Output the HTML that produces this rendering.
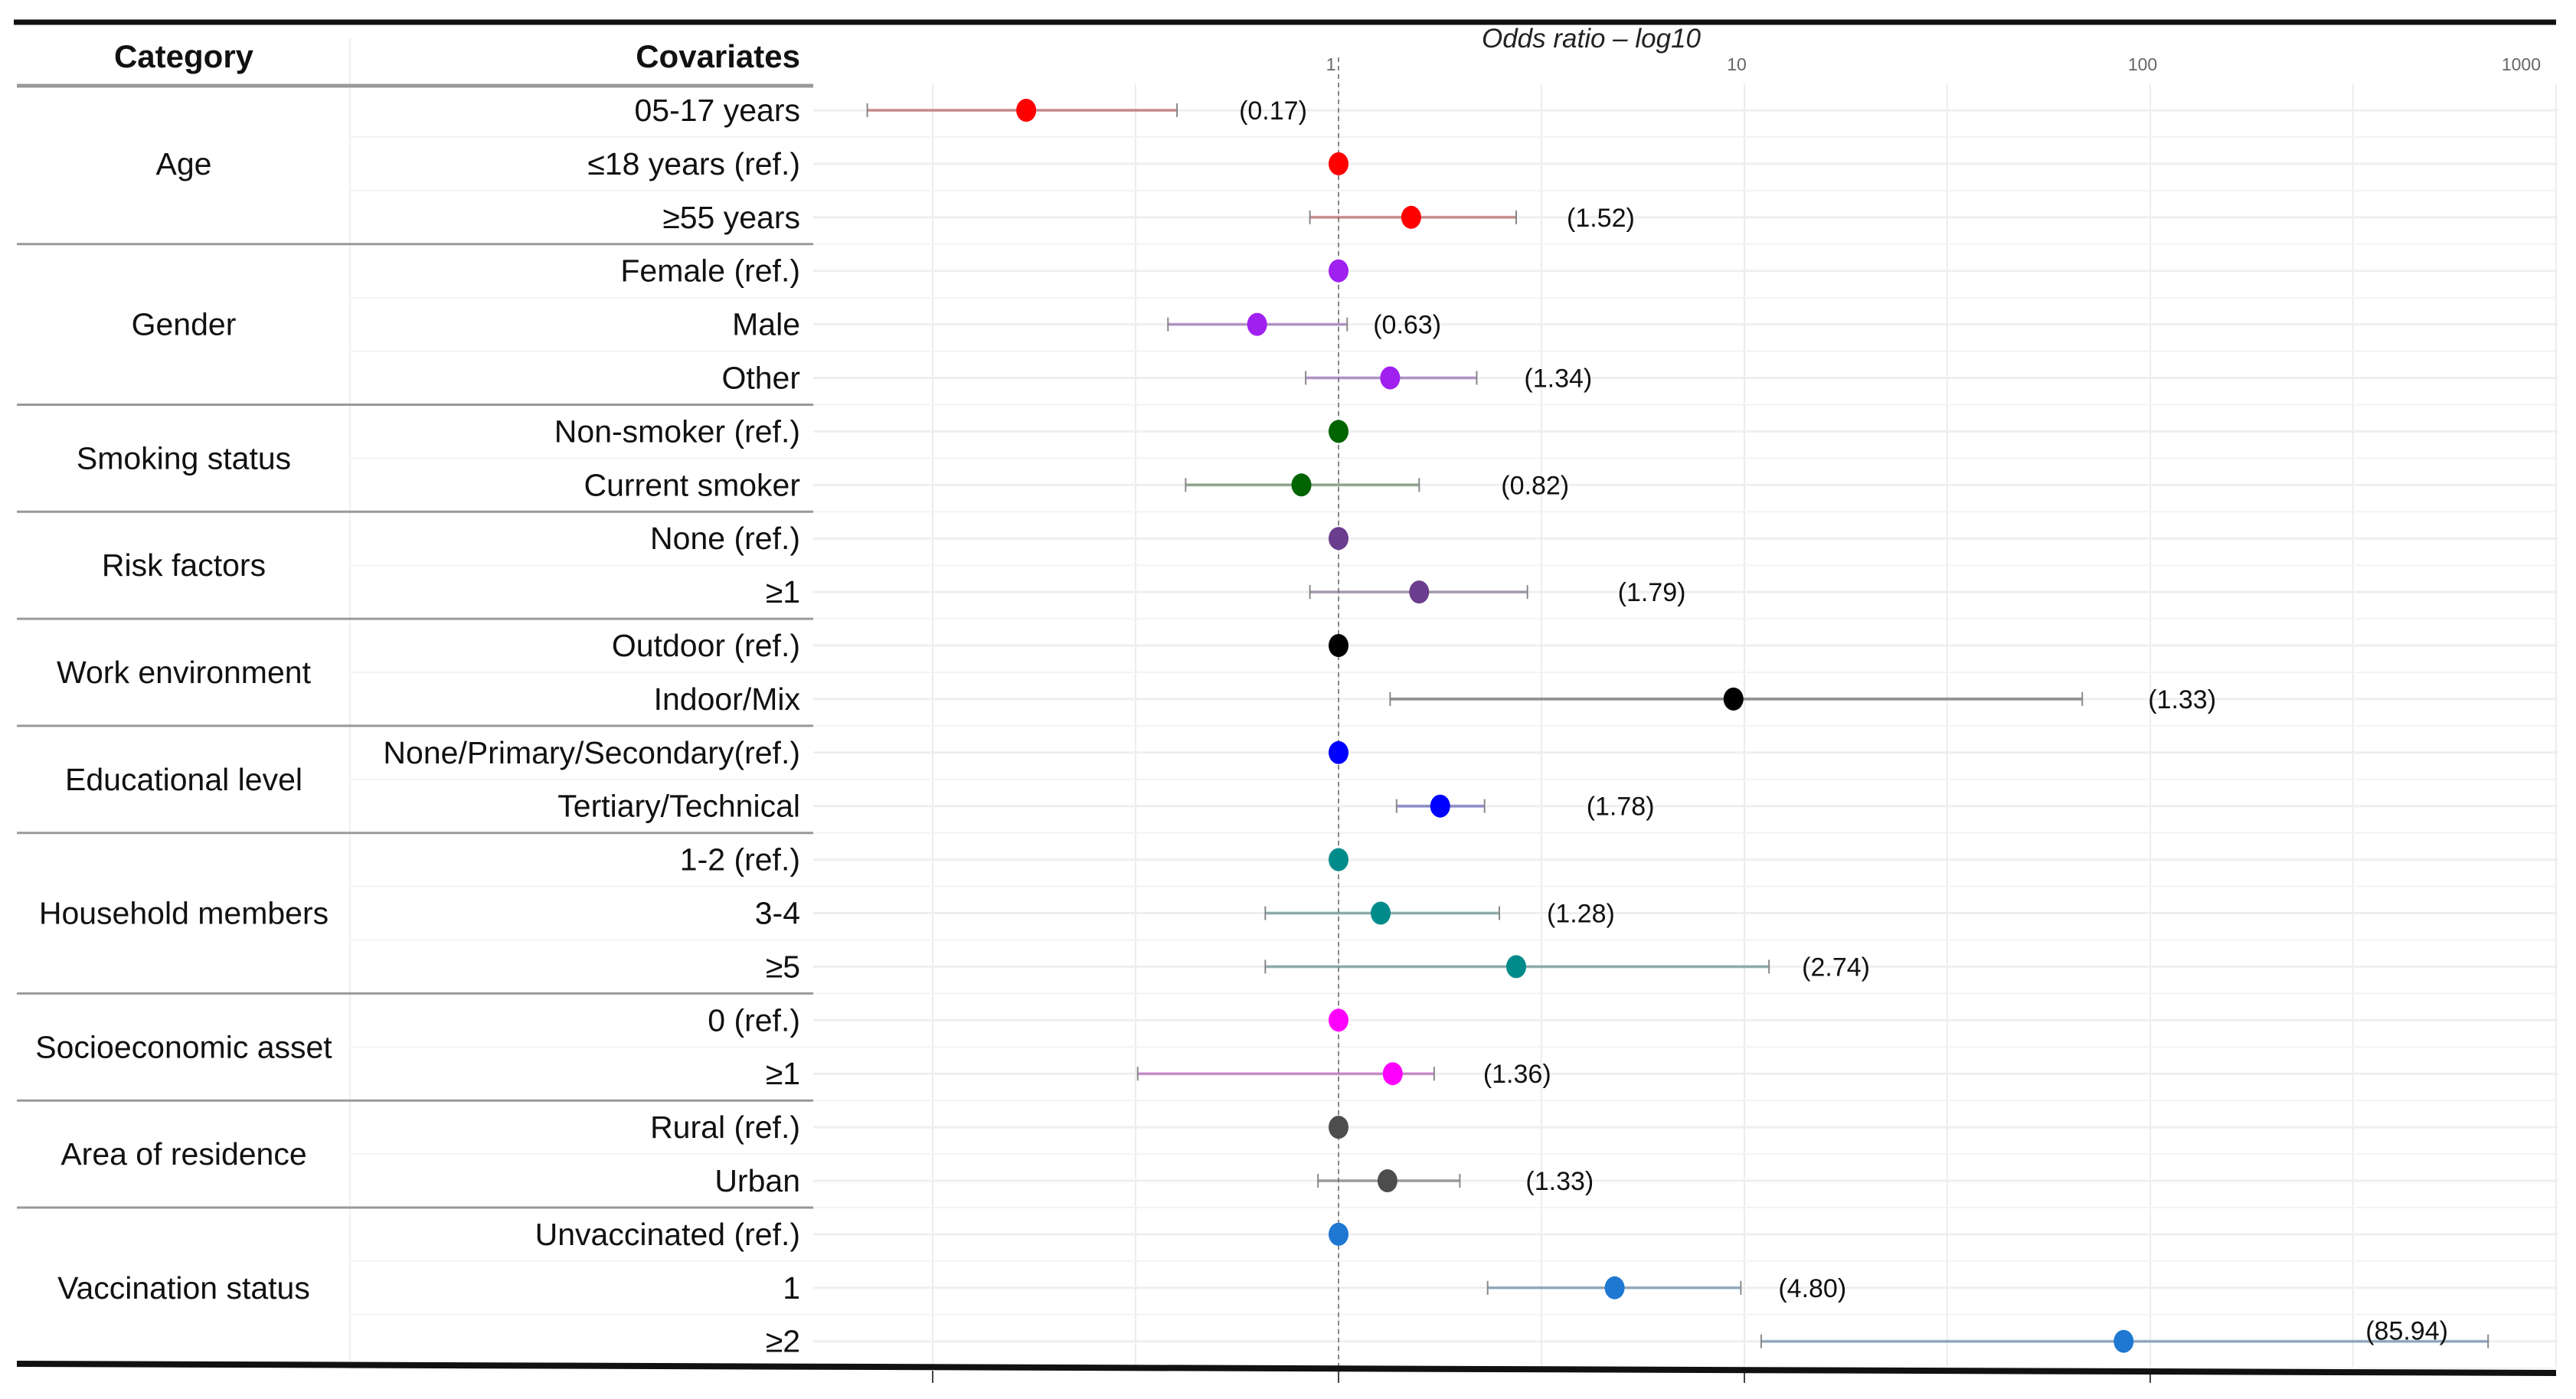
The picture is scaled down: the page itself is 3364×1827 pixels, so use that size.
<!DOCTYPE html>
<html><head><meta charset="utf-8"><style>
html,body{margin:0;padding:0;background:#fff;}
svg{display:block;font-family:"Liberation Sans",sans-serif;}
</style></head><body>
<svg id="chart" width="3364" height="1827" viewBox="0 0 3364 1827" xmlns="http://www.w3.org/2000/svg">
<rect x="0" y="0" width="3364" height="1827" fill="#fff"/>
<g id="grid"></g>
<g id="table"></g>
<g id="marks"></g>
<line x1="18" y1="29" x2="3338" y2="29" stroke="#111" stroke-width="7"/>
<line x1="22" y1="1781" x2="3338" y2="1793" stroke="#111" stroke-width="8"/>
<text x="2078" y="62" font-size="35" font-style="italic" text-anchor="middle" fill="#222">Odds ratio – log10</text>
<text x="240" y="88" font-size="42" font-weight="bold" text-anchor="middle" fill="#111">Category</text>
<text x="1045" y="88" font-size="42" font-weight="bold" text-anchor="end" fill="#111">Covariates</text>
</svg>
<script>
const categories = ["Age","Gender","Smoking status","Risk factors","Work environment","Educational level","Household members","Socioeconomic asset","Area of residence","Vaccination status"];
const groupSizes = [3,3,2,2,2,2,3,2,2,3];
const groupColors = ["#ff0000","#a020f0","#006400","#6a3d8f","#000000","#0000ff","#008b8b","#ff00ff","#4d4d4d","#1f78d2"];
const covariates = ["05-17 years","≤18 years (ref.)","≥55 years","Female (ref.)","Male","Other","Non-smoker (ref.)","Current smoker","None (ref.)","≥1","Outdoor (ref.)","Indoor/Mix","None/Primary/Secondary(ref.)","Tertiary/Technical","1-2 (ref.)","3-4","≥5","0 (ref.)","≥1","Rural (ref.)","Urban","Unvaccinated (ref.)","1","≥2"];
const oddsRatio = [0.17,1,1.51,1,0.63,1.34,1,0.81,1,1.58,1,9.4,1,1.78,1,1.27,2.74,1,1.36,1,1.32,1,4.79,86];
const ciLow = [0.069,null,0.85,null,0.38,0.83,null,0.42,null,0.85,null,1.34,null,1.39,null,0.66,0.66,null,0.32,null,0.89,null,2.33,11];
const ciHigh = [0.40,null,2.74,null,1.05,2.19,null,1.58,null,2.92,null,68,null,2.29,null,2.49,11.5,null,1.72,null,1.99,null,9.8,680];
const valueLabels = ["(0.17)","","(1.52)","","(0.63)","(1.34)","","(0.82)","","(1.79)","","(1.33)","","(1.78)","","(1.28)","(2.74)","","(1.36)","","(1.33)","","(4.80)","(85.94)"];
const tickValues = [1,10,100,1000];
const tickLabels = ["1","10","100","1000"];
const gridValues = [0.1,0.316,1,3.16,10,31.6,100,316,1000];
// label nudges in px (layout only)
const labelDx = [6,0,-9,0,-41,-13,0,32,0,43,0,11,0,58,0,-13,-32,0,-11,0,11,0,-26,0];

const NS="http://www.w3.org/2000/svg";
const xScale = v => 1748 + 530*Math.log10(v);
const yRow = i => 144 + 69.9*i;
function mk(tag, attrs, parent, txt){const e=document.createElementNS(NS,tag);for(const k in attrs)e.setAttribute(k,attrs[k]);if(txt!==undefined)e.textContent=txt;parent.appendChild(e);return e;}
const grid=document.getElementById('grid'), table=document.getElementById('table'), marks=document.getElementById('marks');

gridValues.forEach(v=>{const l=mk('line',{x1:xScale(v),y1:110,x2:xScale(v),y2:1785,stroke:'#ececec','stroke-width':2},grid);

});
covariates.forEach((c,i)=>{
 const l=mk('line',{x1:1062,y1:yRow(i),x2:3340,y2:yRow(i),stroke:'#efefef','stroke-width':3},grid);
 
 
 const s=mk('line',{x1:457,y1:yRow(i)+35,x2:3340,y2:yRow(i)+35,stroke:'#f3f3f3','stroke-width':2},grid);
 
 
});
const cd=mk('line',{x1:457,y1:50,x2:457,y2:1780,stroke:'#f0f0f0','stroke-width':2},grid);


const hs=mk('line',{x1:22,y1:112,x2:1062,y2:112,stroke:'#999','stroke-width':5},table);


const rl=mk('line',{x1:xScale(1),y1:75,x2:xScale(1),y2:1805,stroke:'#888','stroke-width':2,'stroke-dasharray':'6,5'},grid);


tickValues.forEach((v,k)=>{
 const last=k===tickValues.length-1;
 const t=mk('text',{x:last?xScale(v)-20:xScale(v)-10,y:92,'font-size':23,'text-anchor':last?'end':'middle',fill:'#666'},grid,tickLabels[k]);
 
 
});
[0.1,1,10,100].forEach(v=>{const t=mk('line',{x1:xScale(v),y1:1790,x2:xScale(v),y2:1806,stroke:'#444','stroke-width':2},grid);

});

let row=0;
categories.forEach((cat,g)=>{
 const n=groupSizes[g], start=row, color=groupColors[g];
 const cy=(yRow(start)+yRow(start+n-1))/2;
 const ct=mk('text',{x:240,y:cy+14,'font-size':41,'text-anchor':'middle',fill:'#111'},table,cat);
 
 
 if(g<categories.length-1){
  const sep=mk('line',{x1:22,y1:yRow(start+n-1)+35,x2:1062,y2:yRow(start+n-1)+35,stroke:'#999','stroke-width':3},table);
  
  
 }
 for(let i=start;i<start+n;i++){
  const y=yRow(i);
  const ctxt=mk('text',{x:1045,y:y+14,'font-size':41,'text-anchor':'end',fill:'#111'},table,covariates[i]);
  
  
  if(ciLow[i]!==null){
   const x1=xScale(ciLow[i]), x2=xScale(ciHigh[i]);
   const eb=mk('g',{},marks);
   
   
   mk('line',{x1:x1,y1:y,x2:x2,y2:y,stroke:color,'stroke-opacity':0.35,'stroke-width':4},eb);
   mk('line',{x1:x1,y1:y,x2:x2,y2:y,stroke:'#888','stroke-opacity':0.6,'stroke-width':2.5},eb);
   mk('line',{x1:x1,y1:y-9,x2:x1,y2:y+9,stroke:'#888','stroke-width':2},eb);
   mk('line',{x1:x2,y1:y-9,x2:x2,y2:y+9,stroke:'#888','stroke-width':2},eb);
  }
  const pt=mk('ellipse',{cx:xScale(oddsRatio[i]),cy:y,rx:13,ry:15,fill:color},marks);
  
  
  if(valueLabels[i]){
   const hx=xScale(ciHigh[i]);
   const over = hx+200>3340;
   const lt=mk('text',{x:(over?hx-160:hx+75)+labelDx[i],y:over?y-2:y+12,'font-size':34,fill:'#111'},marks,valueLabels[i]);
   
   
  }
 }
 row+=n;
});
</script>
</body></html>
